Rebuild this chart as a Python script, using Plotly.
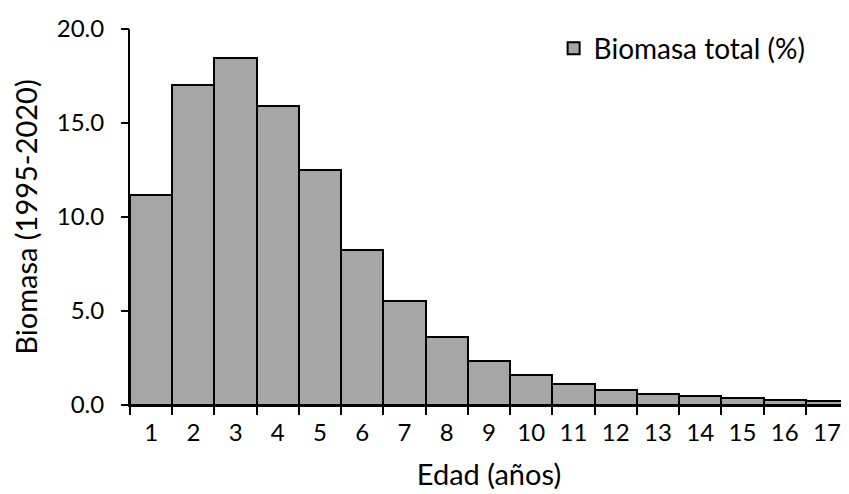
import plotly.graph_objects as go

edad = [str(i) for i in range(1, 18)]
biomasa = [11.18, 17.0, 18.44, 15.89, 12.48, 8.26, 5.51, 3.62, 2.35, 1.58,
           1.12, 0.78, 0.56, 0.49, 0.36, 0.27, 0.20]
y_ticks = [0, 5, 10, 15, 20]
y_ticktext = ["0.0", "5.0", "10.0", "15.0", "20.0"]

FONT = "Lato"
# category boundaries (for tick marks between bars)
x_bounds = [i - 0.5 for i in range(len(edad) + 1)]

fig = go.Figure()
fig.add_trace(go.Bar(
    x=edad, y=biomasa, name="Biomasa total (%)",
    marker=dict(color="#a6a6a6", line=dict(color="black", width=2)),
    showlegend=True,
))
# empty helper traces so the overlay (tick-mark-only) axes are drawn
fig.add_trace(go.Scatter(x=[], y=[], xaxis="x2", yaxis="y",
                         showlegend=False, hoverinfo="skip"))
fig.add_trace(go.Scatter(x=[], y=[], xaxis="x", yaxis="y2",
                         showlegend=False, hoverinfo="skip"))
# page body has an 8px default margin, so the figure is sized to fit inside
fig.update_layout(
    width=841, height=486,
    margin=dict(l=122, r=1, t=21, b=89, autoexpand=False),
    paper_bgcolor="white", plot_bgcolor="white",
    bargap=0,
    font=dict(family=FONT, size=24, color="black"),
    showlegend=True,
    legend=dict(x=0.59, y=0.948, xanchor="left", yanchor="middle",
                bgcolor="rgba(0,0,0,0)", font=dict(size=28),
                itemwidth=30),
    # main axes: labels (with invisible ticks used as label spacing)
    xaxis=dict(
        type="category", ticks="outside", ticklen=5,
        tickcolor="rgba(0,0,0,0)", showline=True, linecolor="black",
        linewidth=2, showgrid=False, range=[-0.5, 16.5], automargin=False,
        title=dict(text="Edad (años)", standoff=20),
    ),
    yaxis=dict(
        range=[0, 20], tickvals=y_ticks, ticktext=y_ticktext, ticks="outside",
        ticklen=19, tickcolor="rgba(0,0,0,0)", showline=True,
        linecolor="black", linewidth=2, showgrid=False, zeroline=False,
        automargin=False,
        title=dict(text="Biomasa (1995-2020)", standoff=12),
    ),
    # overlay axes: visible tick marks only
    xaxis2=dict(
        type="linear", overlaying="x", anchor="y", side="bottom",
        range=[-0.5, 16.5],
        tickvals=x_bounds, ticks="outside", ticklen=9, tickwidth=2,
        tickcolor="black", showticklabels=False, showgrid=False,
        zeroline=False, showline=False, automargin=False,
    ),
    yaxis2=dict(
        type="linear", overlaying="y", anchor="x", side="left",
        range=[0, 20],
        tickvals=y_ticks, ticks="outside", ticklen=8, tickwidth=2,
        tickcolor="black", showticklabels=False, showgrid=False,
        zeroline=False, showline=False, automargin=False,
    ),
)
fig.write_html("out.html")
